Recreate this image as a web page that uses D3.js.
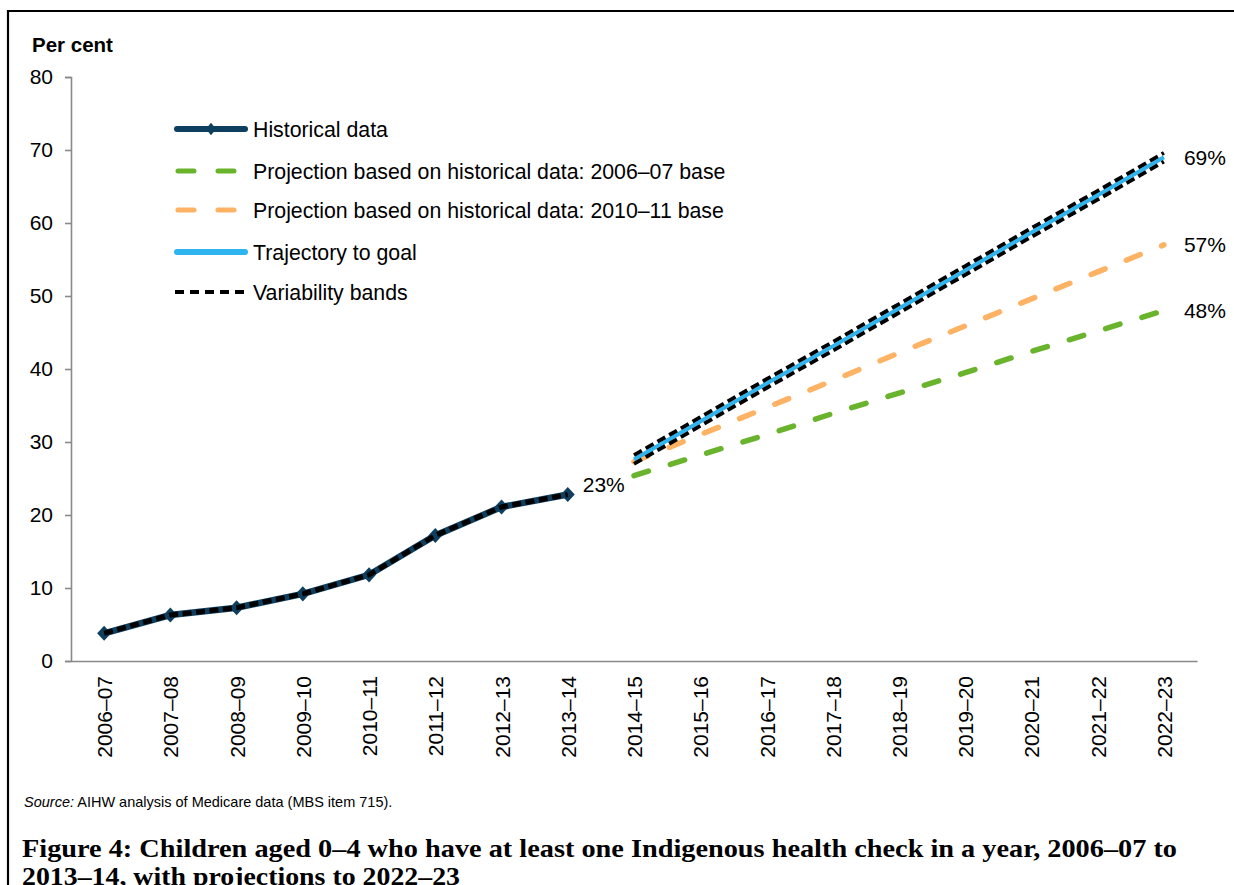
<!DOCTYPE html>
<html>
<head>
<meta charset="utf-8">
<script src="https://cdn.jsdelivr.net/npm/d3@7"></script>
<style>
  body { margin: 0; background: #fff; }
</style>
</head>
<body>
<script>
// years on the x axis
var years = ["2006–07", "2007–08", "2008–09", "2009–10", "2010–11", "2011–12",
             "2012–13", "2013–14", "2014–15", "2015–16", "2016–17", "2017–18",
             "2018–19", "2019–20", "2020–21", "2021–22", "2022–23"];
var histYears = years.slice(0, 8);
var projYears = years.slice(8);

// values (per cent)
var histValues = [3.8, 6.3, 7.3, 9.2, 11.8, 17.2, 21.1, 22.8];
var proj0607 = [25.4, 28.2, 31.0, 33.9, 36.7, 39.5, 42.4, 45.2, 48.0];
var proj1011 = [27.3, 31.0, 34.7, 38.4, 42.2, 45.9, 49.6, 53.3, 57.0];
var trajectory = [27.6, 32.8, 38.0, 43.1, 48.3, 53.5, 58.7, 63.8, 69.0];
var bandUpper = [28.2, 33.4, 38.6, 43.7, 48.9, 54.1, 59.3, 64.4, 69.6];
var bandLower = [27.0, 32.2, 37.4, 42.5, 47.7, 52.9, 58.1, 63.2, 68.4];
var yTicks = [0, 10, 20, 30, 40, 50, 60, 70, 80];

var width = 1234, height = 885;
var font = "Liberation Sans, Arial, sans-serif";
var navy = "#0E3F5E", green = "#6AB42D", orange = "#FDB264", blue = "#2EB5F0";

var svg = d3.select("body").append("svg")
    .attr("width", width)
    .attr("height", height);

// frame (only the top and left edges show)
svg.append("path")
    .attr("d", "M8," + height + " V11 H" + width)
    .attr("fill", "none")
    .attr("stroke", "#000")
    .attr("stroke-width", 2.2);

var x = d3.scalePoint()
    .domain(years)
    .range([71, 1197])
    .padding(0.5);

var y = d3.scaleLinear()
    .domain([0, 80])
    .range([661, 77]);

// y axis
var yAxis = svg.append("g")
    .attr("transform", "translate(71,0)")
    .call(d3.axisLeft(y).tickValues(yTicks).tickSize(6).tickSizeOuter(6).tickPadding(12));
yAxis.selectAll("path, line").attr("stroke", "#898989").attr("stroke-width", 1.6);
yAxis.selectAll("text")
    .attr("font-family", font)
    .attr("font-size", "21px")
    .attr("fill", "#000");

// x axis
var xAxis = svg.append("g")
    .attr("transform", "translate(0,661)")
    .call(d3.axisBottom(x).tickSize(0).tickSizeOuter(0));
xAxis.select(".domain").attr("stroke", "#898989").attr("stroke-width", 1.6);
xAxis.selectAll("text")
    .attr("font-family", font)
    .attr("font-size", "21px")
    .attr("fill", "#000")
    .attr("transform", "rotate(-90)")
    .attr("text-anchor", "end")
    .attr("x", -15)
    .attr("y", 0)
    .attr("dy", "0.36em");

svg.append("text")
    .attr("x", 32)
    .attr("y", 52)
    .attr("font-family", font)
    .attr("font-size", "20.5px")
    .attr("font-weight", "bold")
    .text("Per cent");

var histLine = d3.line()
    .x(function(d, i) { return x(histYears[i]); })
    .y(function(d) { return y(d); });
var projLine = d3.line()
    .x(function(d, i) { return x(projYears[i]); })
    .y(function(d) { return y(d); });

// projections
svg.append("path")
    .attr("d", projLine(proj0607))
    .attr("fill", "none")
    .attr("stroke", green)
    .attr("stroke-width", 5.5)
    .attr("stroke-linecap", "round")
    .attr("stroke-dasharray", "15,23");
svg.append("path")
    .attr("d", projLine(proj1011))
    .attr("fill", "none")
    .attr("stroke", orange)
    .attr("stroke-width", 5.5)
    .attr("stroke-linecap", "round")
    .attr("stroke-dasharray", "15,23");

// trajectory
svg.append("path")
    .attr("d", projLine(trajectory))
    .attr("fill", "none")
    .attr("stroke", blue)
    .attr("stroke-width", 4);

// historical
svg.append("path")
    .attr("d", histLine(histValues))
    .attr("fill", "none")
    .attr("stroke", navy)
    .attr("stroke-width", 6.5);
svg.selectAll(".marker")
    .data(histValues)
    .enter().append("path")
    .attr("class", "marker")
    .attr("d", d3.symbol().type(d3.symbolDiamond).size(66))
    .attr("transform", function(d, i) {
        return "translate(" + x(histYears[i]) + "," + y(d) + ") scale(1.6,1)";
    })
    .attr("fill", navy);

// variability bands
[bandUpper, bandLower].forEach(function(b) {
    svg.append("path")
        .attr("d", projLine(b))
        .attr("fill", "none")
        .attr("stroke", "#000")
        .attr("stroke-width", 3.8)
        .attr("stroke-dasharray", "9,4.5");
});
svg.append("path")
    .attr("d", histLine(histValues))
    .attr("fill", "none")
    .attr("stroke", "#000")
    .attr("stroke-width", 5)
    .attr("stroke-dasharray", "9,4.5");

// value labels
var labels = [
    {text: "23%", year: histYears[7], value: histValues[7], dx: 15, dy: -10},
    {text: "69%", year: projYears[8], value: trajectory[8], dx: 20, dy: 0},
    {text: "57%", year: projYears[8], value: proj1011[8], dx: 20, dy: 0},
    {text: "48%", year: projYears[8], value: proj0607[8], dx: 20, dy: 0}
];
svg.selectAll(".lbl")
    .data(labels)
    .enter().append("text")
    .attr("class", "lbl")
    .attr("x", function(d) { return x(d.year) + d.dx; })
    .attr("y", function(d) { return y(d.value) + d.dy; })
    .attr("dy", "0.36em")
    .attr("font-family", font)
    .attr("font-size", "21px")
    .text(function(d) { return d.text; });

// legend
var legend = svg.append("g");
var rows = [129, 171, 210, 252, 292];
legend.append("line")
    .attr("x1", 177).attr("x2", 245).attr("y1", rows[0]).attr("y2", rows[0])
    .attr("stroke", navy).attr("stroke-width", 6).attr("stroke-linecap", "round");
legend.append("path")
    .attr("d", d3.symbol().type(d3.symbolDiamond).size(45))
    .attr("transform", "translate(211," + rows[0] + ") scale(1.4,1)")
    .attr("fill", navy);
legend.append("line")
    .attr("x1", 178).attr("x2", 236).attr("y1", rows[1]).attr("y2", rows[1])
    .attr("stroke", green).attr("stroke-width", 5).attr("stroke-linecap", "round")
    .attr("stroke-dasharray", "16,24");
legend.append("line")
    .attr("x1", 178).attr("x2", 236).attr("y1", rows[2]).attr("y2", rows[2])
    .attr("stroke", orange).attr("stroke-width", 5).attr("stroke-linecap", "round")
    .attr("stroke-dasharray", "16,24");
legend.append("line")
    .attr("x1", 177).attr("x2", 245).attr("y1", rows[3]).attr("y2", rows[3])
    .attr("stroke", blue).attr("stroke-width", 6).attr("stroke-linecap", "round");
legend.append("line")
    .attr("x1", 175).attr("x2", 247).attr("y1", rows[4]).attr("y2", rows[4])
    .attr("stroke", "#000").attr("stroke-width", 3.8)
    .attr("stroke-dasharray", "9,6");
var legendNames = ["Historical data",
    "Projection based on historical data: 2006–07 base",
    "Projection based on historical data: 2010–11 base",
    "Trajectory to goal",
    "Variability bands"];
legend.selectAll("text")
    .data(legendNames)
    .enter().append("text")
    .attr("x", 253)
    .attr("y", function(d, i) { return rows[i]; })
    .attr("dy", "0.36em")
    .attr("font-family", font)
    .attr("font-size", "21.3px")
    .text(function(d) { return d; });

// source note
var src = svg.append("text")
    .attr("x", 24)
    .attr("y", 807)
    .attr("font-family", font)
    .attr("font-size", "14.5px");
src.append("tspan").attr("font-style", "italic").text("Source:");
src.append("tspan").text(" AIHW analysis of Medicare data (MBS item 715).");

// figure caption
svg.append("text")
    .attr("x", 22)
    .attr("y", 857)
    .attr("font-family", "Liberation Serif, serif")
    .attr("font-weight", "bold")
    .attr("font-size", "25px")
    .attr("textLength", 1155)
    .attr("lengthAdjust", "spacingAndGlyphs")
    .text("Figure 4: Children aged 0–4 who have at least one Indigenous health check in a year, 2006–07 to");
svg.append("text")
    .attr("x", 22)
    .attr("y", 885)
    .attr("font-family", "Liberation Serif, serif")
    .attr("font-weight", "bold")
    .attr("font-size", "25px")
    .attr("textLength", 438)
    .attr("lengthAdjust", "spacingAndGlyphs")
    .text("2013–14, with projections to 2022–23");
</script>
</body>
</html>
